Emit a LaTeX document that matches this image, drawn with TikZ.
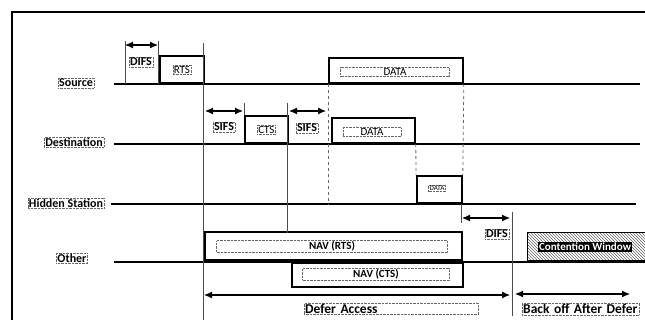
\documentclass[tikz,border=0pt]{standalone}
\usepackage{fontspec}
\setmainfont{Carlito}
\usetikzlibrary{arrows.meta,patterns}
\tikzset{
  tline/.style={line width=2pt},
  vline/.style={line width=0.7pt, black!70},
  dline/.style={line width=0.8pt, black!60, dashed},
  msg/.style={draw, line width=1.8pt, inner sep=0pt, anchor=south west},
  lbl/.style={draw=black!60, densely dotted, inner sep=1pt, font=\fontsize{12}{14}\selectfont\bfseries},
  tag/.style={draw=black!60, densely dotted, inner sep=1pt, font=\fontsize{11}{13}\selectfont},
  span/.style={{Latex[length=8pt,width=7pt]}-{Latex[length=8pt,width=7pt]}, line width=1.1pt}
}
\begin{document}
\begin{tikzpicture}[x=1pt,y=-1pt]
\useasboundingbox (0,0) rectangle (645,320);
\draw[line width=1.6pt] (12,322) -- (12,12) -- (650,12);

% time lines
\coordinate (s0) at (114,84);  \coordinate (s1) at (640,84);
\coordinate (d0) at (114,144); \coordinate (d1) at (640,144);
\coordinate (h0) at (111,204); \coordinate (h1) at (636,204);
\coordinate (o0) at (114,262); \coordinate (o1) at (645,262);
\draw[tline] (s0) -- (s1);
\draw[tline] (d0) -- (d1);
\draw[tline] (h0) -- (h1);
\draw[tline] (o0) -- (o1);

\node[lbl] (source) at (76,83) {Source};
\node[lbl] (dest) at (74,142) {Destination};
\node[lbl] (hidden) at (66,203) {Hidden Station};
\node[lbl] (other) at (72,258) {Other};

% frames
\node[msg, minimum width=44pt, minimum height=27pt] (rts) at (159,84) {};
\node[msg, minimum width=134pt, minimum height=25pt] (sdata) at (328,84) {};
\node[msg, minimum width=43pt, minimum height=27pt] (cts) at (244,144) {};
\node[msg, minimum width=83pt, minimum height=25pt] (ddata) at (331,144) {};
\node[msg, minimum width=45pt, minimum height=27pt] (hdata) at (416,204) {};
\node[msg, minimum width=257pt, minimum height=28pt] (navrts) at (204,261) {};
\node[msg, anchor=north west, minimum width=171pt, minimum height=24pt] (navcts) at (291,262) {};
\node[draw, line width=0.8pt, pattern=north west lines, pattern color=black!60, inner sep=0pt,
      anchor=south west, minimum width=125pt, minimum height=28pt] (cw) at (527,261) {};

\node[tag] at (rts.center) {RTS};
\node[tag] at (cts.center) {CTS};
\node[tag, minimum width=109pt] at (395,72) {DATA};
\node[tag, minimum width=58pt] at (372,132) {DATA};
\node[tag, font=\fontsize{7}{8}\selectfont] at (437,188) {DATA};
\node[lbl, font=\fontsize{11}{13}\selectfont\bfseries, minimum width=231pt] at (332,246.5) {NAV (RTS)};
\node[lbl, font=\fontsize{11}{13}\selectfont\bfseries, minimum width=147pt] at (376,274) {NAV (CTS)};
\node[fill=black, text=white, inner sep=1pt, font=\fontsize{11}{13}\selectfont\bfseries] at (585,247) {Contention Window};

% markers
\coordinate (m1a) at (125,41); \coordinate (m1b) at (125,84);
\coordinate (m2a) at (158,41); \coordinate (m2b) at (158,84);
\coordinate (m3a) at (203,43); \coordinate (m3b) at (203,320);
\coordinate (m4a) at (244,103);
\coordinate (m5a) at (287,103); \coordinate (m5b) at (287,233);
\coordinate (m6a) at (461,204); \coordinate (m6b) at (461,223);
\coordinate (m7a) at (512,212); \coordinate (m7b) at (512,316);
\draw[vline] (m1a) -- (m1b);
\draw[vline] (m2a) -- (m2b);
\draw[vline] (m3a) -- (m3b);
\draw[vline] (m4a) -- (cts.north west);
\draw[vline] (m5a) -- (m5b);
\draw[vline] (m6a) -- (m6b);
\draw[vline] (m7a) -- (m7b);
\draw[dline] (sdata.south west) -- (328,205);
\draw[dline] (sdata.south east) -- (hdata.north east);
\draw[dline] (ddata.south east) -- (hdata.north west);

% spans
\draw[span] (125,45) -- (158,45);
\draw[span] (205,111) -- (243,111);
\draw[span] (289,111) -- (326,111);
\draw[span] (462,218) -- (510,218);
\draw[span] (204,295) -- (510,295);
\draw[span] (515,294) -- (630,294);

\node[lbl] (difs1) at (141,62) {DIFS};
\node[lbl] (sifs1) at (224,127) {SIFS};
\node[lbl] (sifs2) at (307,128) {SIFS};
\node[lbl] (difs2) at (497,234) {DIFS};
\node[lbl, font=\fontsize{13.5}{15}\selectfont\bfseries, anchor=north west, text width=172pt] (defer) at (304,303) {Defer Access};
\node[lbl, font=\fontsize{13.5}{15}\selectfont\bfseries, anchor=north west, text width=115pt] (backoff) at (522,303) {Back off After Defer};
\end{tikzpicture}
\end{document}
